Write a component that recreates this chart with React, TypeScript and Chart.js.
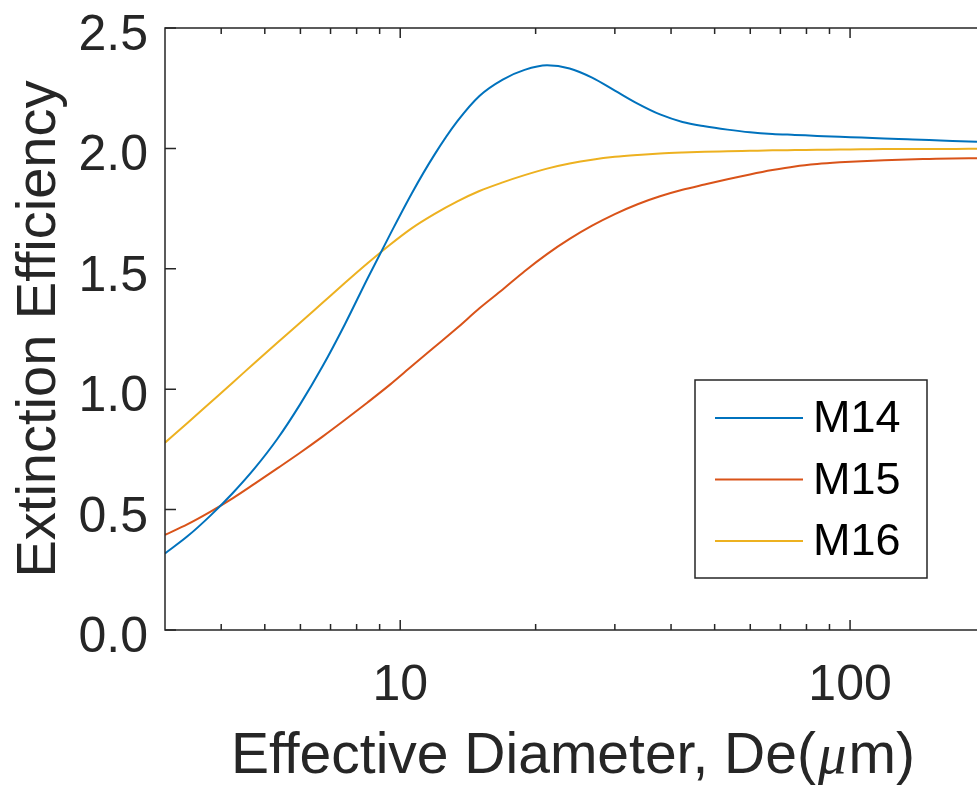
import React, { useEffect, useRef } from "react";
import { Chart, registerables } from "chart.js";

Chart.register(...registerables);

// Effective diameter De (µm)
const DIAMETER = [3, 3.37, 3.78, 4.24, 4.75, 5.33, 5.99, 6.72, 7.54, 8.46, 9.49, 10.6, 11.9, 13.4, 15, 16.9, 18.9, 21.2, 23.8, 26.7, 30, 33.7, 37.8, 42.4, 47.5, 53.4, 59.9, 67.2, 75.4, 84.5, 94.9, 106, 119, 134, 150, 169, 191.5];
// Extinction efficiency per band
const M14 = [0.318, 0.39, 0.474, 0.568, 0.672, 0.793, 0.937, 1.095, 1.271, 1.46, 1.642, 1.812, 1.972, 2.113, 2.218, 2.286, 2.326, 2.345, 2.332, 2.294, 2.24, 2.186, 2.141, 2.11, 2.092, 2.078, 2.067, 2.06, 2.056, 2.052, 2.048, 2.045, 2.041, 2.038, 2.035, 2.031, 2.028];
const M15 = [0.395, 0.44, 0.491, 0.547, 0.608, 0.671, 0.736, 0.803, 0.873, 0.945, 1.019, 1.095, 1.174, 1.255, 1.336, 1.414, 1.49, 1.561, 1.624, 1.679, 1.727, 1.768, 1.801, 1.828, 1.85, 1.872, 1.892, 1.91, 1.925, 1.935, 1.942, 1.947, 1.951, 1.954, 1.956, 1.958, 1.959];
const M16 = [0.778, 0.861, 0.944, 1.027, 1.11, 1.193, 1.276, 1.359, 1.442, 1.523, 1.6, 1.668, 1.727, 1.78, 1.823, 1.859, 1.889, 1.916, 1.937, 1.953, 1.965, 1.973, 1.979, 1.983, 1.986, 1.988, 1.99, 1.992, 1.993, 1.994, 1.995, 1.996, 1.997, 1.997, 1.998, 1.998, 1.999];

const SERIES_NAMES = ["M14", "M15", "M16"];
const SERIES_COLORS = ["#0072BD", "#D95319", "#EDB120"];

const X_TICKS = [10, 100];
const X_MINOR = [4, 5, 6, 7, 8, 9, 20, 30, 40, 50, 60, 70, 80, 90];
const Y_TICKS = [0, 0.5, 1, 1.5, 2, 2.5];

const X_TITLE_PARTS = ["Effective Diameter, De(", "\u03bc", "m)"];
const Y_TITLE = "Extinction Efficiency";

const AXIS_COLOR = "#262626";
const FONT = "'Liberation Sans', Arial, Helvetica, sans-serif";

const matlabAxes = {
  id: "matlabAxes",
  afterDatasetsDraw(chart: any) {
    const { ctx, chartArea: a, scales } = chart;
    const xs = scales.x;
    const ys = scales.y;
    ctx.save();

    // axes box (left, top, bottom)
    ctx.strokeStyle = AXIS_COLOR;
    ctx.lineWidth = 1.5;
    ctx.beginPath();
    ctx.moveTo(a.right + 5, a.top);
    ctx.lineTo(a.left, a.top);
    ctx.lineTo(a.left, a.bottom);
    ctx.lineTo(a.right + 5, a.bottom);
    ctx.stroke();

    // inward ticks
    ctx.beginPath();
    const xt = (v: number, len: number) => {
      const px = xs.getPixelForValue(v);
      ctx.moveTo(px, a.bottom);
      ctx.lineTo(px, a.bottom - len);
      ctx.moveTo(px, a.top);
      ctx.lineTo(px, a.top + len);
    };
    X_TICKS.forEach((v) => xt(v, 10));
    X_MINOR.forEach((v) => xt(v, 6));
    Y_TICKS.forEach((v) => {
      const py = ys.getPixelForValue(v);
      ctx.moveTo(a.left, py);
      ctx.lineTo(a.left + 11, py);
    });
    ctx.stroke();

    // tick labels
    ctx.fillStyle = AXIS_COLOR;
    ctx.font = `50px ${FONT}`;
    ctx.textBaseline = "alphabetic";
    ctx.textAlign = "right";
    Y_TICKS.forEach((v) => {
      const py = ys.getPixelForValue(v);
      ctx.fillText(v.toFixed(1), a.left - 17, py + 22);
    });
    ctx.textAlign = "center";
    X_TICKS.forEach((v) => {
      const px = xs.getPixelForValue(v);
      ctx.fillText(String(v), px, a.bottom + 70);
    });

    // x title with italic mu
    const fonts = [`57px ${FONT}`, `italic 57px 'Liberation Serif', 'DejaVu Serif', serif`, `57px ${FONT}`];
    const widths = X_TITLE_PARTS.map((t, i) => {
      ctx.font = fonts[i];
      return ctx.measureText(t).width;
    });
    const total = widths.reduce((s, w) => s + w, 0) + 4;
    let x = (a.left + a.right) / 2 + 2 - total / 2;
    ctx.textAlign = "left";
    X_TITLE_PARTS.forEach((t, i) => {
      ctx.font = fonts[i];
      ctx.fillText(t, x, a.bottom + 143);
      x += widths[i] + (i < 2 ? 2 : 0);
    });

    // y title
    ctx.save();
    ctx.translate(55, (a.top + a.bottom) / 2);
    ctx.rotate(-Math.PI / 2);
    ctx.font = `56px ${FONT}`;
    ctx.textAlign = "center";
    ctx.fillText(Y_TITLE, 0, 0);
    ctx.restore();

    // legend
    const lw = 232;
    const lh = 198;
    const lx = a.right - 50 - lw;
    const ly = a.bottom - 52 - lh;
    ctx.fillStyle = "#ffffff";
    ctx.fillRect(lx, ly, lw, lh);
    ctx.strokeStyle = AXIS_COLOR;
    ctx.lineWidth = 1.5;
    ctx.strokeRect(lx, ly, lw, lh);
    ctx.font = `45px ${FONT}`;
    ctx.textAlign = "left";
    ctx.textBaseline = "middle";
    chart.data.datasets.forEach((ds: any, i: number) => {
      const ry = ly + 38 + i * 61.5;
      ctx.strokeStyle = ds.borderColor;
      ctx.lineWidth = 2;
      ctx.beginPath();
      ctx.moveTo(lx + 20, ry);
      ctx.lineTo(lx + 108, ry);
      ctx.stroke();
      ctx.fillStyle = "#000000";
      ctx.fillText(ds.label, lx + 118, ry + 2);
    });

    ctx.restore();
  },
};

export default function App() {
  const ref = useRef<HTMLCanvasElement | null>(null);

  useEffect(() => {
    document.body.style.margin = "0";
    const canvas = ref.current;
    if (!canvas) return;
    const series = [M14, M15, M16];
    const chart = new Chart(canvas, {
      type: "line",
      data: {
        datasets: series.map((vals, i) => ({
          label: SERIES_NAMES[i],
          data: DIAMETER.map((d, j) => ({ x: d, y: vals[j] })),
          borderColor: SERIES_COLORS[i],
          backgroundColor: SERIES_COLORS[i],
          borderWidth: 2,
          pointRadius: 0,
          cubicInterpolationMode: "monotone",
          fill: false,
        })),
      },
      options: {
        animation: false,
        responsive: false,
        devicePixelRatio: 1,
        layout: { padding: { top: 28, left: 0, right: 0, bottom: 0 } },
        plugins: { legend: { display: false }, tooltip: { enabled: false } },
        scales: {
          x: {
            type: "logarithmic",
            min: 3,
            max: 191.5,
            grid: { display: false, drawTicks: false },
            border: { display: false },
            ticks: { display: false },
            afterFit: (s: any) => {
              s.height = 155;
            },
          },
          y: {
            type: "linear",
            min: 0,
            max: 2.5,
            grid: { display: false, drawTicks: false },
            border: { display: false },
            ticks: { display: false, stepSize: 0.5 },
            afterFit: (s: any) => {
              s.width = 165;
            },
          },
        },
      },
      plugins: [matlabAxes],
    });
    return () => chart.destroy();
  }, []);

  return (
    <div style={{ width: 977, height: 785, background: "#ffffff", overflow: "hidden" }}>
      <canvas ref={ref} width={977} height={785} style={{ display: "block" }} />
    </div>
  );
}
